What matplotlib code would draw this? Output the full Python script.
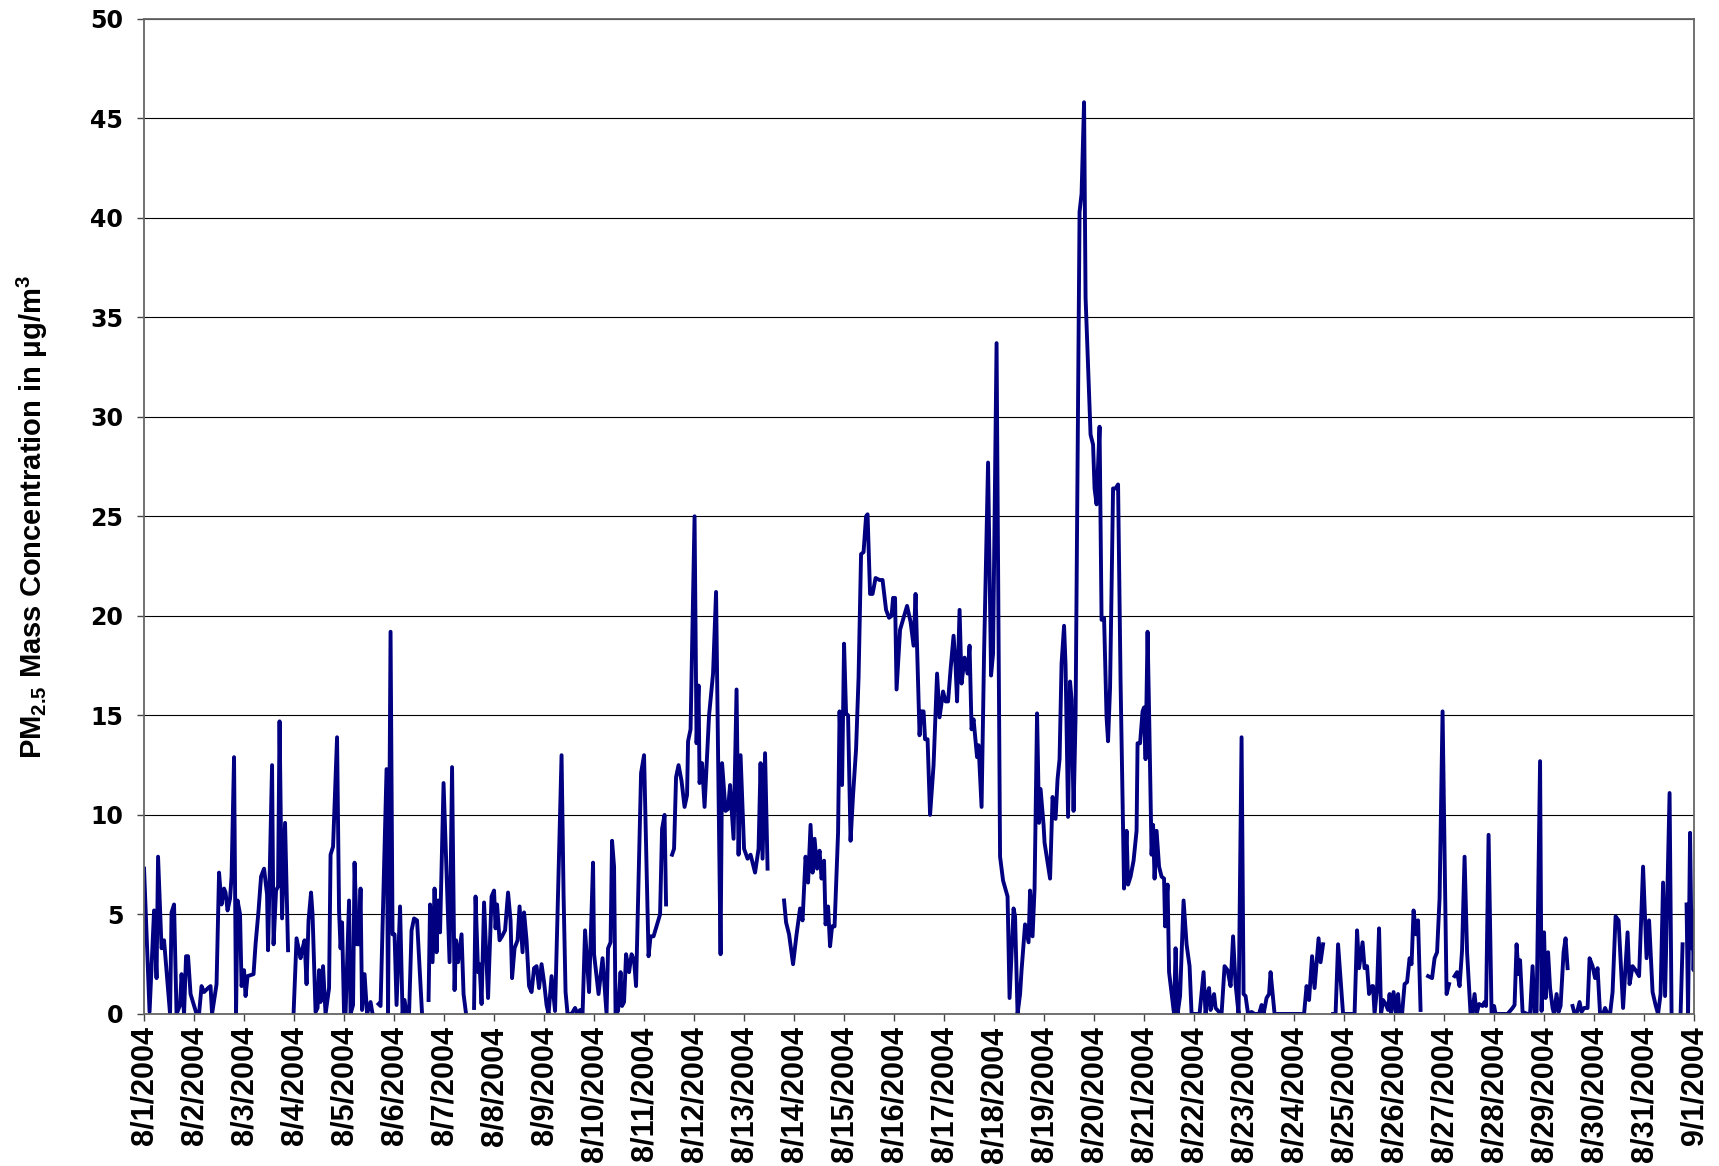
import numpy as np
import matplotlib
matplotlib.use("Agg")
import matplotlib.pyplot as plt

nan = np.nan

# time in days since 8/1/2004 00:00, PM2.5 in ug/m3 (nan = missing data)
day = [
    0.00, 0.11, 0.20, 0.25, 0.28, 0.35, 0.40, 0.52, 0.55, 0.60, 0.65, 0.72, 0.75, 0.80, 0.84, 0.88, 0.93,
    1.05, 1.10, 1.15, 1.20, 1.28, 1.33, 1.36, 1.45, 1.50, 1.55, 1.60, 1.63, 1.67, 1.72, 1.75, 1.80, 1.84,
    1.87, 1.92, 1.95, 2.00, 2.03, 2.07, 2.19, 2.23, 2.29, 2.34, 2.40, 2.46, 2.48, 2.56, 2.59, 2.64, 2.68,
    2.71, 2.76, 2.82, 2.88, 2.92,
    2.99, 3.05, 3.13, 3.16, 3.21, 3.25, 3.29, 3.34, 3.37, 3.43, 3.47, 3.50, 3.53, 3.58, 3.63, 3.70, 3.73,
    3.78, 3.86, 3.90, 3.93, 3.96, 4.00, 4.03, 4.10, 4.13, 4.18, 4.21, 4.26, 4.30, 4.33, 4.36, 4.41, 4.46,
    4.53, 4.57, 4.62,
    4.69, 4.73, 4.85, 4.88, 4.93, 4.97, 5.01, 5.05, 5.12, 5.17, 5.21, 5.25, 5.30, 5.35, 5.40, 5.46, 5.56,
    5.62,
    5.69, 5.72, 5.77, 5.81, 5.85, 5.88, 5.92, 5.99, 6.11, 6.16, 6.21, 6.24, 6.28, 6.35, 6.39, 6.44, 6.52,
    6.60, 6.63, 6.68, 6.71, 6.75, 6.80, 6.88, 6.95, 7.00, 7.03, 7.06, 7.11, 7.16, 7.22, 7.28, 7.33, 7.36,
    7.41, 7.47, 7.51, 7.57, 7.60, 7.65, 7.70, 7.75, 7.80, 7.85, 7.90, 7.95, 8.00, 8.05, 8.09, 8.15, 8.22,
    8.35, 8.39, 8.43, 8.47, 8.55, 8.62, 8.67, 8.72, 8.77, 8.82, 8.90, 8.98, 9.00, 9.09, 9.17, 9.25, 9.28,
    9.33, 9.36, 9.40, 9.43, 9.48, 9.53, 9.56, 9.60, 9.64, 9.70, 9.75, 9.80, 9.84, 9.94, 10.00, 10.09,
    10.13, 10.19, 10.26, 10.32, 10.36, 10.41, 10.44, 10.50,
    10.56, 10.60, 10.64, 10.69, 10.75, 10.81, 10.86, 10.88, 10.93, 11.01, 11.05, 11.09, 11.11, 11.16,
    11.21, 11.30, 11.38, 11.44, 11.53, 11.56, 11.63, 11.68, 11.72, 11.79, 11.85, 11.89, 11.93, 12.00,
    12.07, 12.13, 12.22, 12.29, 12.33, 12.37, 12.42, 12.47, 12.60,
    12.80, 12.84, 12.90, 12.98, 13.05, 13.12, 13.17, 13.23, 13.28, 13.33, 13.37, 13.41, 13.46, 13.51,
    13.55, 13.60, 13.63, 13.68, 13.72, 13.76, 13.81, 13.88, 13.91, 13.96, 14.00, 14.04, 14.08, 14.13,
    14.18, 14.24, 14.29, 14.34, 14.39, 14.44, 14.47, 14.52, 14.57, 14.63, 14.71, 14.77, 14.84, 14.90,
    14.95, 14.98, 15.02, 15.05, 15.12, 15.19, 15.26, 15.33, 15.39, 15.43, 15.51, 15.54, 15.59, 15.62,
    15.67, 15.72, 15.79, 15.86, 15.91, 15.98, 16.03, 16.08, 16.13, 16.19, 16.23, 16.26, 16.31, 16.35,
    16.41, 16.47, 16.51, 16.55, 16.59, 16.66, 16.69, 16.75, 16.80, 16.88, 16.94, 16.98, 17.05, 17.12,
    17.18, 17.27, 17.31, 17.39, 17.42, 17.47, 17.52, 17.55, 17.62, 17.69, 17.72, 17.77, 17.81, 17.86,
    17.90, 17.93, 17.99, 18.01, 18.12, 18.17, 18.23, 18.27, 18.31, 18.35, 18.40, 18.43, 18.48, 18.52,
    18.55, 18.59, 18.63, 18.67, 18.71, 18.75, 18.80, 18.83, 18.89, 18.93, 18.98, 19.01, 19.05, 19.11,
    19.15, 19.20, 19.25, 19.28, 19.32, 19.38, 19.43, 19.48, 19.53, 19.60, 19.65, 19.68, 19.73, 19.79,
    19.85, 19.87, 19.92, 19.97, 20.00, 20.03, 20.07, 20.10, 20.15, 20.18, 20.21, 20.25, 20.30, 20.35,
    20.40, 20.42, 20.47, 20.50, 20.60, 20.63, 20.67, 20.72, 20.79, 20.85, 20.91, 20.95, 21.11, 21.19,
    21.23, 21.27, 21.30, 21.33, 21.37, 21.40, 21.43, 21.50, 21.55, 21.61, 21.67, 21.73, 21.78, 21.83,
    21.89, 21.95, 21.99, 22.03, 22.08, 22.15, 22.21, 22.30, 22.35, 22.39, 22.45, 22.50, 22.53, 22.61,
    23.20, 23.25, 23.30, 23.36, 23.41, 23.49, 23.53, 23.58, 23.68,
    23.78, 23.83, 23.88, 23.98, 24.21, 24.26, 24.30, 24.37, 24.41, 24.46, 24.50, 24.56, 24.58, 24.61,
    24.66, 24.70, 24.74, 24.78, 24.83, 24.88, 24.91, 24.94, 24.99, 25.04, 25.08, 25.11, 25.16, 25.21,
    25.26, 25.31, 25.35, 25.39, 25.44, 25.48, 25.53, 25.60,
    25.68, 25.76, 25.81, 25.86, 25.91, 25.97, 26.05, 26.10, 26.15,
    26.21, 26.26, 26.31, 26.36, 26.41, 26.46, 26.53, 26.56, 26.61, 26.65, 26.70, 26.77, 26.81, 26.84,
    26.89, 26.95, 27.00, 27.03, 27.27, 27.37, 27.41, 27.45, 27.49, 27.52, 27.57, 27.67, 27.72, 27.77,
    27.81, 27.85, 27.92, 27.95, 28.00, 28.03, 28.08, 28.12, 28.17, 28.20, 28.25, 28.29, 28.33, 28.39,
    28.43, 28.47, 28.52,
    28.57, 28.61, 28.66, 28.71, 28.75, 28.80, 28.87, 28.91, 28.97, 29.02, 29.07, 29.12, 29.18, 29.22,
    29.27, 29.32, 29.37, 29.43, 29.49, 29.58, 29.67, 29.71, 29.77, 29.83, 29.90, 29.98, 30.05, 30.10,
    30.17, 30.23, 30.28, 30.33, 30.38, 30.42, 30.51, 30.55, 30.65,
    30.73, 30.77, 30.81,
    30.85, 30.88, 30.92, 30.95, 30.97, 30.99, 31.00,
]

pm25 = [
    7.3, 0.1, 5.2, 1.8, 7.9, 3.3, 3.7, 0.0, 5.1, 5.5, 0.0, 0.45, 2.0, 0.0, 2.9, 2.9, 1.0,
    0.0, 0.0, 1.4, 1.1, 1.3, 1.4, 0.0, 1.5, 7.1, 5.5, 6.3, 6.1, 5.2, 5.8, 6.9, 12.9, 0.0,
    5.7, 5.0, 1.4, 2.2, 0.9, 1.9, 2.0, 3.5, 5.2, 6.9, 7.3, 6.0, 3.2, 12.5, 3.5, 6.2, 6.4,
    14.7, 4.8, 9.6, 3.2, nan,
    0.0, 3.8, 2.8, 3.2, 3.7, 1.5, 4.7, 6.1, 5.0, 0.1, 0.3, 2.2, 0.6, 2.4, 0.0, 1.3, 8.0,
    8.4, 13.9, 5.2, 3.3, 4.6, 0.0, 0.0, 5.7, 0.0, 0.45, 7.6, 3.5, 3.5, 6.3, 0.2, 2.0, 0.0,
    0.6, 0.0, nan,
    0.5, 0.4, 12.3, 0.0, 19.2, 4.0, 4.0, 0.45, 5.4, 0.0, 0.7, 0.0, 0.0, 4.2, 4.8, 4.7, 0.0,
    nan,
    0.7, 5.5, 2.6, 6.3, 3.1, 5.7, 4.1, 11.6, 2.6, 12.4, 1.2, 3.7, 2.6, 4.0, 1.0, 0.0, nan,
    0.3, 5.9, 2.1, 2.5, 0.5, 5.6, 0.8, 5.9, 6.2, 4.3, 5.5, 3.7, 3.9, 4.2, 6.1, 4.7, 1.8,
    3.3, 3.7, 5.4, 3.1, 5.1, 3.7, 1.4, 1.1, 2.3, 2.4, 1.3, 2.5, 1.6, 0.45, 0.0, 1.9, 0.15,
    13.0, 6.0, 1.1, 0.0, 0.0, 0.3, 0.0, 0.2, 0.0, 4.2, 1.1, 7.6, 3.0, 1.0, 2.8, 0.0, 3.3,
    3.6, 8.7, 7.4, 0.0, 0.15, 2.1, 0.4, 0.6, 3.0, 2.1, 3.0, 2.7, 1.4, 12.1, 13.0, 2.9,
    3.9, 3.9, 4.5, 5.0, 9.3, 10.0, 5.5, nan,
    8.0, 8.3, 11.9, 12.5, 11.7, 10.4, 11.0, 13.7, 14.3, 25.0, 13.6, 16.5, 11.6, 12.6,
    10.4, 15.0, 17.1, 21.2, 3.0, 12.6, 10.2, 10.3, 11.5, 8.8, 16.3, 8.0, 13.0, 8.3,
    7.8, 8.0, 7.1, 8.3, 12.6, 7.8, 13.1, 7.3, nan,
    5.7, 4.6, 4.0, 2.5, 4.0, 5.3, 4.7, 7.9, 6.6, 9.5, 7.1, 8.8, 7.3, 8.2,
    6.8, 7.7, 4.5, 5.4, 3.4, 4.4, 4.4, 9.1, 15.2, 11.5, 18.6, 15.1, 15.0, 8.7,
    11.0, 13.3, 16.9, 23.1, 23.2, 25.0, 25.1, 21.1, 21.1, 21.9, 21.8, 21.8, 20.3, 19.9,
    20.0, 20.9, 20.9, 16.3, 19.3, 19.9, 20.5, 19.7, 18.5, 21.1, 14.0, 15.2, 15.2, 13.8,
    13.8, 10.0, 12.5, 17.1, 14.9, 16.2, 15.7, 15.7, 17.3, 19.0, 17.5, 15.7, 20.3, 16.6,
    17.9, 17.1, 18.5, 14.3, 14.8, 12.9, 13.5, 10.4, 18.1, 27.7, 17.0, 18.1, 33.7, 7.9,
    6.7, 5.9, 0.8, 5.3, 4.9, 0.0, 1.0, 2.2, 4.5, 3.6, 6.2, 3.9, 6.3, 15.1,
    9.6, 11.3, 9.5, 8.6, 6.8, 10.9, 9.8, 11.8, 12.8, 17.6, 19.5, 17.5, 9.9, 16.7,
    15.8, 10.2, 14.9, 27.6, 40.3, 41.2, 45.8, 36.0, 31.8, 29.1, 28.6, 26.4, 25.6, 29.5,
    19.8, 19.9, 14.9, 13.7, 16.4, 26.4, 26.4, 26.6, 16.7, 6.3, 9.2, 6.5, 6.9, 7.7,
    9.2, 13.6, 13.6, 15.2, 15.4, 12.8, 19.2, 15.2, 8.0, 9.5, 6.8, 9.2, 7.4, 6.9,
    6.8, 4.4, 6.5, 2.1, 0.0, 3.3, 0.0, 0.9, 5.7, 3.5, 2.4, 0.0, 0.0, 2.1,
    0.0, 1.0, 1.3, 0.2, 0.7, 1.0, 0.3, 0.1, 0.0, 2.4, 2.2, 1.4, 3.9, 1.5,
    0.0, 13.9, 1.0, 0.9, 0.0, 0.1, 0.0, 0.0, 0.45, 0.0, 0.8, 1.0, 2.1, 0.0,
    0.0, 1.4, 0.7, 2.9, 1.3, 3.8, 2.6, 3.5, nan,
    0.0, 0.0, 3.5, 0.0, 0.0, 4.2, 2.3, 3.6, 2.3, 2.4, 1.0, 1.4, 1.4, 0.0,
    1.3, 4.3, 0.0, 0.7, 0.5, 0.2, 1.0, 0.0, 1.1, 0.0, 1.0, 0.0, 0.0, 1.5,
    1.6, 2.8, 2.5, 5.2, 4.0, 4.7, 0.2, nan,
    1.9, 1.8, 2.8, 3.1, 5.8, 15.2, 1.0, 1.5, nan,
    1.9, 2.1, 1.4, 3.2, 7.9, 3.1, 0.0, 0.0, 1.0, 0.0, 0.5, 0.4, 0.6, 0.4,
    9.0, 0.0, 0.4, 0.0, 0.0, 0.3, 0.45, 3.5, 2.0, 2.7, 0.1, 0.0, 0.0, 2.4,
    0.0, 0.1, 12.7, 0.15, 4.1, 0.8, 3.1, 1.3, 0.3, 0.0, 1.0, 0.1, 0.4, 3.1,
    3.8, 2.3, nan,
    0.4, 0.0, 0.1, 0.6, 0.1, 0.3, 0.3, 2.8, 2.4, 1.8, 2.3, 0.0, 0.0, 0.3,
    0.0, 0.0, 1.1, 4.9, 4.7, 0.3, 4.1, 1.5, 2.4, 2.2, 1.9, 7.4, 2.8, 4.7,
    1.1, 0.45, 0.0, 1.0, 6.6, 0.9, 11.1, 0.0, nan,
    0.0, 3.5, nan,
    5.5, 0.0, 9.1, 3.3, 5.2, 2.2, 3.2,
]

tick_labels = ["8/%d/2004" % d for d in range(1, 32)] + ["9/1/2004"]
y_ticks = list(range(0, 51, 5))

fig = plt.figure(figsize=(17.19, 11.66), dpi=100)
ax = fig.add_axes([0.0838, 0.1304, 0.9017, 0.8536])

ax.plot(day, pm25, color="#000080", linewidth=2.8, solid_joinstyle="round")

ax.set_xlim(0, 31)
ax.set_ylim(0, 50)
ax.set_yticks(y_ticks)
ax.set_xticks(range(len(tick_labels)))
ax.set_xticklabels(tick_labels, rotation=90, fontfamily="Liberation Sans",
                   fontweight="bold", fontsize=22)
for lab in ax.get_yticklabels():
    lab.set_fontfamily("DejaVu Sans")
    lab.set_fontweight("bold")
    lab.set_fontsize(17)

ax.yaxis.grid(True, color="black", linewidth=0.8)
ax.set_axisbelow(True)
for s in ax.spines.values():
    s.set_color("#666666")
    s.set_linewidth(1.3)
ax.tick_params(axis="y", direction="out", length=5, width=1, color="#444444", pad=10)
ax.tick_params(axis="x", direction="out", length=5, width=1, color="#444444", pad=4)

fig.text(0.0186, 0.5566, r"PM$_{\mathregular{2.5}}$ Mass Concentration in $\mathregular{\mu}$g/m$^{\mathregular{3}}$",
         rotation=90, ha="center", va="center", fontfamily="Liberation Sans",
         fontweight="bold", fontsize=21)

fig.savefig("out.png", dpi=100)
